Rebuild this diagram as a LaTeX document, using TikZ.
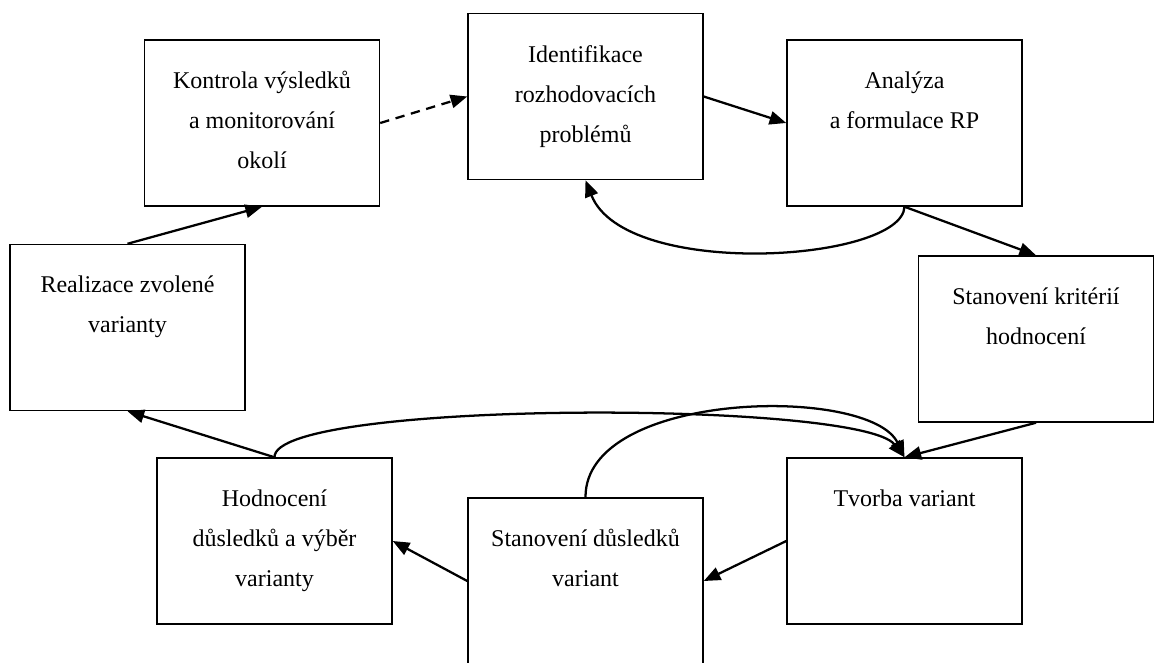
\documentclass[tikz,border=0pt]{standalone}
\usepackage{fontspec}
\setmainfont{Liberation Serif}
\usetikzlibrary{arrows.meta}
\tikzset{
  stepbox/.style={draw, line width=1.1pt, minimum width=176.25pt, minimum height=124.5pt, inner sep=0pt},
  txt/.style={anchor=base, align=flush center, text width=172pt, inner sep=0pt, font=\fontsize{18}{30}\selectfont},
  conn/.style={line width=1.7pt, -{Triangle[length=12.5pt,width=10pt]}},
  dashconn/.style={conn, dash pattern=on 7pt off 5pt}
}
\begin{document}
\begin{tikzpicture}[x=0.75pt, y=-0.75pt]
\useasboundingbox (0,0) rectangle (1154,662);
\clip (0,0) rectangle (1154,662);
% boxes
\node[stepbox] (kon)   at (262,123)    {};
\node[stepbox] (ident) at (585.5,96.5) {};
\node[stepbox] (ana)   at (904.5,123)  {};
\node[stepbox] (krit)  at (1036,339)   {};
\node[stepbox] (tvor)  at (904.5,541)  {};
\node[stepbox] (stan)  at (585.5,581)  {};
\node[stepbox] (hod)   at (274.5,541)  {};
\node[stepbox] (real)  at (127.5,327.5){};
% texts
\node[txt] (kon-t)   at ([yshift=-36.75pt]kon.north)   {Kontrola výsledků\\a monitorování\\okolí};
\node[txt] (ident-t) at ([yshift=-37pt]ident.north)    {Identifikace\\rozhodovacích\\problémů};
\node[txt] (ana-t)   at ([yshift=-36.75pt]ana.north)   {Analýza\\a formulace RP};
\node[txt] (krit-t)  at ([yshift=-36.75pt]krit.north)  {Stanovení kritérií\\hodnocení};
\node[txt] (tvor-t)  at ([yshift=-36.75pt]tvor.north)  {Tvorba variant};
\node[txt] (stan-t)  at ([yshift=-36.75pt]stan.north)  {Stanovení důsledků\\variant};
\node[txt] (hod-t)   at ([yshift=-36.75pt]hod.north)   {Hodnocení\\důsledků a výběr\\varianty};
\node[txt] (real-t)  at ([yshift=-36.75pt]real.north)  {Realizace zvolené\\varianty};
% connectors
\draw[conn] (real.north) -- (kon.south);
\draw[dashconn] (kon.east) -- (ident.west);
\draw[conn] (ident.east) -- (ana.west);
\draw[conn] (ana.south) .. controls (902,262) and (625,280) .. (ident.south);
\draw[conn] (ana.south) -- (krit.north);
\draw[conn] (krit.south) -- (tvor.north);
\draw[conn] (tvor.west) -- (stan.east);
\draw[conn] (stan.west) -- (hod.east);
\draw[conn] (hod.north) -- (real.south);
\draw[conn] (hod.north) .. controls (273,400) and (860,400) .. (tvor.north);
\draw[conn] (stan.north) .. controls (585,390) and (870,385) .. (tvor.north);
\end{tikzpicture}
\end{document}
